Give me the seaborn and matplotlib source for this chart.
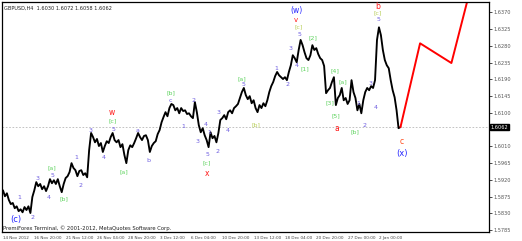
import matplotlib
matplotlib.use("Agg")
import matplotlib.pyplot as plt
import matplotlib.transforms as mtransforms
import seaborn as sns
import pandas as pd

# ---------------- data ----------------
close = [
    1.5892, 1.5876, 1.5884, 1.5866, 1.5855, 1.5858, 1.5844, 1.5849, 1.5836, 1.5841,
    1.5833, 1.5847, 1.5839, 1.5849, 1.5831, 1.5874, 1.5892, 1.5914, 1.5903, 1.5909,
    1.5895, 1.5903, 1.5890, 1.5903, 1.5922, 1.5911, 1.5919, 1.5909, 1.5922, 1.5903,
    1.5887, 1.5909, 1.5925, 1.5930, 1.5941, 1.5965, 1.5952, 1.5946, 1.5930, 1.5944,
    1.5946, 1.5933, 1.5938, 1.5927, 1.6000, 1.6046, 1.6035, 1.6021, 1.6030, 1.6011,
    1.6019, 1.5995, 1.6011, 1.6024, 1.6019, 1.6035, 1.6046, 1.6027, 1.6021, 1.6027,
    1.6008, 1.6016, 1.5987, 1.5965, 1.6000, 1.6013, 1.6008, 1.6019, 1.6032, 1.6046,
    1.6035, 1.6027, 1.6038, 1.6040, 1.6027, 1.5995, 1.6011, 1.6019, 1.6024, 1.6043,
    1.6054, 1.6075, 1.6089, 1.6102, 1.6091, 1.6113, 1.6124, 1.6121, 1.6107, 1.6113,
    1.6099, 1.6113, 1.6105, 1.6107, 1.6097, 1.6099, 1.6091, 1.6086, 1.6129, 1.6102,
    1.6067, 1.6048, 1.6059, 1.6040, 1.6027, 1.6008, 1.6048, 1.6032, 1.6038, 1.6021,
    1.6046, 1.6081, 1.6086, 1.6094, 1.6083, 1.6102, 1.6107, 1.6099, 1.6113, 1.6118,
    1.6124, 1.6140, 1.6156, 1.6167, 1.6148, 1.6137, 1.6145, 1.6126, 1.6134, 1.6113,
    1.6102, 1.6121, 1.6113, 1.6126, 1.6118, 1.6134, 1.6156, 1.6172, 1.6183, 1.6199,
    1.6210, 1.6201, 1.6196, 1.6191, 1.6196, 1.6188, 1.6210, 1.6228, 1.6255, 1.6247,
    1.6236, 1.6269, 1.6296, 1.6282, 1.6263, 1.6247, 1.6242, 1.6255, 1.6282, 1.6269,
    1.6274, 1.6258, 1.6247, 1.6242, 1.6226, 1.6153, 1.6161, 1.6167, 1.6183, 1.6196,
    1.6121, 1.6140, 1.6148, 1.6167, 1.6134, 1.6140, 1.6124, 1.6134, 1.6188, 1.6156,
    1.6140, 1.6107, 1.6124, 1.6099, 1.6134, 1.6156, 1.6167, 1.6161, 1.6172, 1.6167,
    1.6188, 1.6296, 1.6330, 1.6309, 1.6269, 1.6242, 1.6228, 1.6220, 1.6188, 1.6161,
    1.6142, 1.6107, 1.6059, 1.6062,
]
bars = list(range(len(close)))

proj_bars = [203, 213, 229, 240.5]
proj_prices = [1.6062, 1.6287, 1.6234, 1.6470]

price_ticks = [1.5785, 1.5830, 1.5875, 1.5920, 1.5965, 1.6010, 1.6055,
               1.6100, 1.6145, 1.6190, 1.6235, 1.6280, 1.6325, 1.6370]
current_price = 1.6062

date_bars = [0, 16, 32, 48, 64, 80, 96, 112, 128, 144, 160, 176, 192]
date_labels = ["14 Nov 2012", "16 Nov 20:00", "21 Nov 12:00", "26 Nov 04:00",
               "28 Nov 20:00", "3 Dec 12:00", "6 Dec 04:00", "10 Dec 20:00",
               "13 Dec 12:00", "18 Dec 04:00", "20 Dec 20:00", "27 Dec 00:00",
               "2 Jan 00:00"]

header = "GBPUSD,H4  1.6030 1.6072 1.6058 1.6062"
copyright_text = "PremiForex Terminal, \u00a9 2001-2012, MetaQuotes Software Corp."

PUR = "#6f5fe0"
GRN = "#5fd35f"
YGR = "#b8cf5a"
RED = "#ff1a1a"
BLU = "#2727ff"

# wave labels: text, bar, price, colour, size
waves = [
    ("(c)", 6.6, 1.5813, BLU, 6),
    ("1", 8.2, 1.5874, PUR, 4.5), ("2", 15.3, 1.5820, PUR, 4.5),
    ("3", 17.8, 1.5925, PUR, 4.5), ("4", 23.4, 1.5874, PUR, 4.5),
    ("5", 25.5, 1.5933, PUR, 4.5), ("[a]", 25.0, 1.5953, GRN, 4.5),
    ("[b]", 31.1, 1.5868, GRN, 4.5),
    ("1", 37.2, 1.5981, PUR, 4.5), ("2", 39.7, 1.5906, PUR, 4.5),
    ("3", 44.8, 1.6054, PUR, 4.5), ("4", 51.5, 1.5981, PUR, 4.5),
    ("5", 56.6, 1.6056, PUR, 4.5), ("[c]", 56.1, 1.6080, GRN, 4.5),
    ("w", 55.5, 1.6102, RED, 5.5),
    ("[a]", 61.7, 1.5941, GRN, 4.5), ("a", 68.8, 1.6054, PUR, 4.5),
    ("b", 74.4, 1.5973, PUR, 4.5), ("c", 85.6, 1.6134, PUR, 4.5),
    ("[b]", 85.6, 1.6153, GRN, 4.5),
    ("1", 92.2, 1.6064, PUR, 4.5), ("2", 97.5, 1.6134, PUR, 4.5),
    ("3", 99.4, 1.6024, PUR, 4.5), ("4", 103.4, 1.6070, PUR, 4.5),
    ("5", 104.5, 1.5987, PUR, 4.5), ("[c]", 104.0, 1.5965, GRN, 4.5),
    ("x", 104.0, 1.5938, RED, 5.5),
    ("1", 105.5, 1.6048, PUR, 4.5), ("2", 109.6, 1.5997, PUR, 4.5),
    ("3", 110.0, 1.6102, PUR, 4.5), ("4", 114.6, 1.6054, PUR, 4.5),
    ("5", 122.8, 1.6175, PUR, 4.5), ("[a]", 121.8, 1.6191, GRN, 4.5),
    ("[b]", 129.4, 1.6067, YGR, 4.5),
    ("1", 139.6, 1.6220, PUR, 4.5), ("2", 145.2, 1.6175, PUR, 4.5),
    ("3", 146.8, 1.6274, PUR, 4.5), ("4", 149.8, 1.6228, PUR, 4.5),
    ("5", 151.3, 1.6312, PUR, 4.5), ("[c]", 150.8, 1.6330, YGR, 4.5),
    ("v", 149.8, 1.6350, RED, 5), ("(w)", 149.8, 1.6376, BLU, 5.5),
    ("[1]", 154.4, 1.6218, GRN, 4.5), ("[2]", 158.5, 1.6301, GRN, 4.5),
    ("[3]", 167.1, 1.6126, GRN, 4.5), ("[4]", 169.7, 1.6212, GRN, 4.5),
    ("[5]", 170.2, 1.6091, GRN, 4.5), ("a", 170.7, 1.6059, RED, 5.5),
    ("[a]", 173.8, 1.6183, GRN, 4.5), ("[b]", 179.9, 1.6048, GRN, 4.5),
    ("1", 181.4, 1.6126, PUR, 4.5), ("2", 184.5, 1.6067, PUR, 4.5),
    ("3", 187.5, 1.6180, PUR, 4.5), ("4", 190.1, 1.6115, PUR, 4.5),
    ("5", 191.6, 1.6352, PUR, 4.5), ("[c]", 191.6, 1.6368, YGR, 4.5),
    ("b", 191.1, 1.6387, RED, 5.5),
    ("c", 203.8, 1.6024, "#ff4a1a", 5.5), ("(x)", 203.8, 1.5992, BLU, 6),
]

# ---------------- plot ----------------
sns.set_style("white")
plt.rcParams["font.family"] = ["DejaVu Sans"]

fig = plt.figure(figsize=(5.22, 2.41), dpi=100)
ax = fig.add_axes([2 / 522, 9 / 241, 487 / 522, 230 / 241])

df = pd.DataFrame({"bar": bars, "price": close})
sns.lineplot(data=df, x="bar", y="price", ax=ax, color="black", lw=1.35,
             estimator=None, sort=False)
dfp = pd.DataFrame({"bar": proj_bars, "price": proj_prices})
sns.lineplot(data=dfp, x="bar", y="price", ax=ax, color="#ff0000", lw=1.4,
             estimator=None, sort=False)

ax.axhline(current_price, color="#b8b8b8", lw=0.6, ls=(0, (2, 2)), zorder=0)

for t, b, p, c, s in waves:
    ax.text(b, p, t, color=c, fontsize=s, ha="center", va="center")

ax.set_xlim(-0.5, 248.2)
ax.set_ylim(1.5780, 1.6398)
ax.set_xlabel("")
ax.set_ylabel("")

ax.yaxis.tick_right()
ax.set_yticks(price_ticks)
# the tick under the current-price box is hidden by that box in the terminal
ax.set_yticklabels(["" if abs(v - current_price) < 0.001 else f"{v:.4f}"
                    for v in price_ticks])
ax.set_xticks(date_bars)
ax.set_xticklabels(date_labels, ha="left")
ax.tick_params(axis="both", length=2, width=0.5,
               colors="black", pad=1, direction="out")
ax.tick_params(axis="y", labelcolor="#555555", labelsize=3.6)
ax.tick_params(axis="x", labelcolor="#444444", labelsize=3.0)

for sp in ax.spines.values():
    sp.set_color("black")
    sp.set_linewidth(0.9)

ax.text(0.005, 0.985, header, transform=ax.transAxes, fontsize=3.6,
        ha="left", va="top", color="#222222")
ax.text(0.003, 0.005, copyright_text, transform=ax.transAxes, fontsize=3.8,
        ha="left", va="bottom", color="#222222")

trans = mtransforms.blended_transform_factory(ax.transAxes, ax.transData)
ax.text(1.004, current_price, f"{current_price:.4f}", transform=trans,
        fontsize=3.6, ha="left", va="center", color="white", zorder=10,
        bbox=dict(boxstyle="square,pad=0.15", fc="black", ec="black"))

fig.savefig("out.png", dpi=100)
